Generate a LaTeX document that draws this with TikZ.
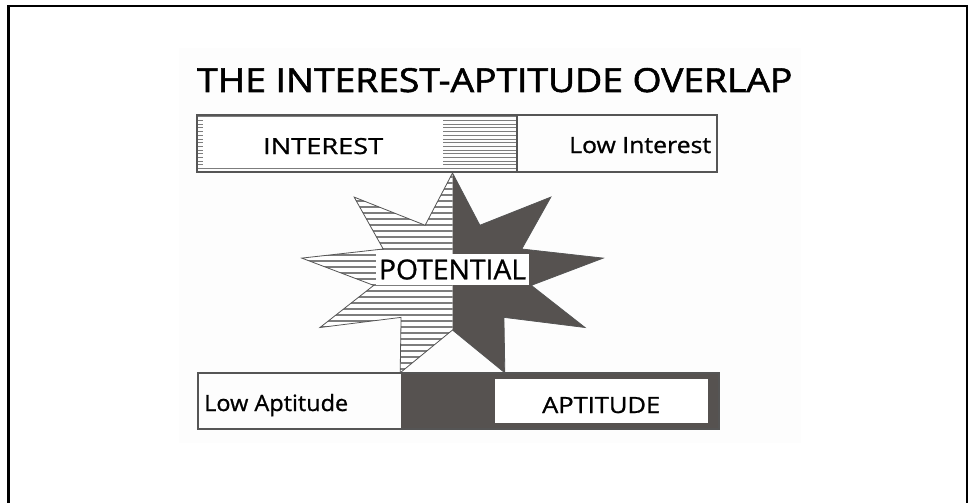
\documentclass[tikz,border=0pt]{standalone}
\usepackage{fontspec}
\setmainfont{Open Sans}
\newfontfamily\heavy[FakeBold=1.6]{Open Sans}
\newfontfamily\medium[FakeBold=0.9]{Open Sans}
\usepackage{graphicx}
\definecolor{ink}{RGB}{86,82,80}
\definecolor{rule}{RGB}{85,85,85}
\definecolor{hatch}{RGB}{125,125,125}
\definecolor{backdrop}{RGB}{253,253,253}
% set a text to a given width and height (in pt)
\newcommand{\fitbox}[3]{\resizebox{#1pt}{#2pt}{#3}}

\begin{document}
\begin{tikzpicture}[x=1pt,y=-1pt,
  lbl/.style={inner sep=0pt, anchor=base west, text=black, font=\medium},
  barline/.style={draw=rule, line width=1.3pt},
  hatchline/.style={draw=hatch, line width=0.9pt},
  starhatch/.style={draw=hatch, line width=1.2pt},
]
\useasboundingbox (0,0) rectangle (970,503);

% outer frame
\draw[line width=2.6pt] (8.6,503) -- (8.6,6) -- (967,6) -- (967,503);
% faint backdrop of the chart
\fill[backdrop] (179,48) rectangle (801,443);

% title
\node[lbl, font=\heavy] (title) at (197,92) {\fitbox{595}{24}{THE INTEREST-APTITUDE OVERLAP}};

% nine-pointed star, outer and inner vertices
\foreach \k in {0,...,17}{
  \pgfmathsetmacro{\ang}{90+20*\k}
  \pgfmathsetmacro{\rx}{ifthenelse(mod(\k,2)==1,80,153)}
  \pgfmathsetmacro{\ry}{ifthenelse(mod(\k,2)==1,54,103)}
  \coordinate (s\k) at ({452.5+\rx*cos(\ang)},{276-\ry*sin(\ang)});
}
\tikzset{starpath/.style={insert path={(s0)--(s1)--(s2)--(s3)--(s4)--(s5)--(s6)--(s7)--(s8)--(s9)--(s10)--(s11)--(s12)--(s13)--(s14)--(s15)--(s16)--(s17)--cycle}}}

% left half: horizontal hatching
\begin{scope}
  \clip (296,168) rectangle (452.5,378);
  \path[clip, starpath];
  \fill[white] (296,168) rectangle (452.5,378);
  \foreach \y in {177,183,...,375} \draw[starhatch] (296,\y) -- (453,\y);
\end{scope}
% right half: solid
\begin{scope}
  \clip (452.5,168) rectangle (610,378);
  \path[fill=ink, starpath];
\end{scope}
\path[draw=rule, line width=0.8pt, line join=miter, starpath];

% top bar: interest
\begin{scope}
  \clip (197,115) rectangle (517,172);
  \foreach \y in {116.8,120.5,...,172} \draw[hatchline] (197,\y) -- (517,\y);
\end{scope}
\fill[white] (203,119.5) rectangle (443,167.5);
\draw[barline] (197,115) rectangle (717,172);
\draw[barline] (517,115) -- (517,172);
\node[lbl] (interest) at (263,154) {\fitbox{120}{16}{INTEREST}};
\node[lbl] (lowint) at (569,153) {\fitbox{142}{16}{Low Interest}};

% centre label
\node[fill=white, inner sep=0pt, minimum width=153pt, minimum height=31pt, font=\medium] (potential)
  at (452.5,269.5) {\fitbox{147}{20}{POTENTIAL}};

% bottom bar: aptitude
\fill[ink] (401,373) rectangle (719,429);
\fill[white] (495,379) rectangle (708,423);
\draw[barline] (198,373) rectangle (719,429);
\node[lbl] (lowapt) at (204,411) {\fitbox{144}{17}{Low Aptitude}};
\node[lbl] (aptitude) at (542,413) {\fitbox{118}{16}{APTITUDE}};
\end{tikzpicture}
\end{document}
